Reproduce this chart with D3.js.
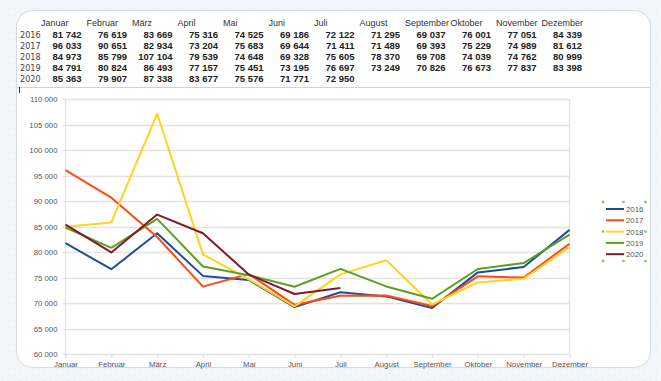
<!DOCTYPE html>
<html>
<head>
<meta charset="utf-8">
<script src="https://cdn.jsdelivr.net/npm/d3@7"></script>
<style>
  html, body { margin: 0; padding: 0; background: #f2f5f9; }
  svg { display: block; font-family: "Liberation Sans", Arial, sans-serif; }
</style>
</head>
<body>
<svg id="chart" width="661" height="381"></svg>
<script>
const months = ["Januar", "Februar", "März", "April", "Mai", "Juni", "Juli",
  "August", "September", "Oktober", "November", "Dezember"];
const years = ["2016", "2017", "2018", "2019", "2020"];

const v2016 = [81742, 76619, 83669, 75316, 74525, 69186, 72122, 71295, 69037, 76001, 77051, 84339];
const v2017 = [96033, 90651, 82934, 73204, 75683, 69644, 71411, 71489, 69393, 75229, 74989, 81612];
const v2018 = [84973, 85799, 107104, 79539, 74648, 69328, 75605, 78370, 69708, 74039, 74762, 80999];
const v2019 = [84791, 80824, 86493, 77157, 75451, 73195, 76697, 73249, 70826, 76673, 77837, 83398];
const v2020 = [85363, 79907, 87338, 83677, 75576, 71771, 72950];

const yTicks = [60000, 65000, 70000, 75000, 80000, 85000, 90000, 95000, 100000, 105000, 110000];
const colors = ["#1c4f94", "#ff4a12", "#ffd320", "#5aa022", "#7e1a2c"];

const series = [v2016, v2017, v2018, v2019, v2020].map((values, i) => {
  return { year: years[i], values: values, color: colors[i] };
});

// german style thousands: "81 742"
const fmt = (d) => d3.format(",")(d).replace(/,/g, " ");

const svg = d3.select("#chart");

// background dots
const defs = svg.append("defs");
defs.append("pattern")
  .attr("id", "dots")
  .attr("width", 6)
  .attr("height", 6)
  .attr("patternUnits", "userSpaceOnUse")
  .append("rect")
  .attr("x", 2).attr("y", 2)
  .attr("width", 1).attr("height", 1)
  .attr("fill", "#e4e9ef");

svg.append("rect")
  .attr("width", 661).attr("height", 381)
  .attr("fill", "url(#dots)");

// card
svg.append("rect")
  .attr("x", 16.5).attr("y", 10.5)
  .attr("width", 634).attr("height", 357)
  .attr("rx", 16)
  .attr("fill", "#fff")
  .attr("stroke", "#d6dbe1");

/////////////////////////////////////////////////////////
// table

const colX = (i) => 41 + 45.5 * i;
const table = svg.append("g").attr("class", "table");

table.selectAll("text.month")
  .data(months)
  .enter().append("text")
  .attr("class", "month")
  .attr("x", (d, i) => colX(i))
  .attr("y", 26)
  .attr("font-size", 9)
  .attr("fill", "#333")
  .text((d) => d);

const rows = table.selectAll("g.row")
  .data(series)
  .enter().append("g")
  .attr("class", "row")
  .attr("transform", (d, i) => `translate(0,${37.5 + 11.2 * i})`);

rows.append("text")
  .attr("x", 20)
  .attr("font-size", 9)
  .attr("fill", "#444")
  .attr("font-family", "'Liberation Sans Narrow', 'DejaVu Sans Condensed', sans-serif")
  .text((d) => d.year);

rows.selectAll("text.val")
  .data((d) => d.values)
  .enter().append("text")
  .attr("class", "val")
  .attr("x", (d, i) => 81.5 + 45.5 * i)
  .attr("text-anchor", "end")
  .attr("font-size", 9.5)
  .attr("font-weight", "bold")
  .attr("fill", "#222")
  .text(fmt);

svg.append("line")
  .attr("x1", 17).attr("x2", 650)
  .attr("y1", 87.5).attr("y2", 87.5)
  .attr("stroke", "#cfd3d8");

svg.append("line")
  .attr("x1", 19.5).attr("x2", 19.5)
  .attr("y1", 87).attr("y2", 93)
  .attr("stroke", "#333");

/////////////////////////////////////////////////////////
// chart

const x = d3.scalePoint().domain(months).range([65.5, 569.5]);
const y = d3.scaleLinear().domain([60000, 110000]).range([354, 99]);

const plot = svg.append("g").attr("class", "plot");

plot.selectAll("line.grid")
  .data(yTicks)
  .enter().append("line")
  .attr("class", "grid")
  .attr("x1", 63).attr("x2", 569.5)
  .attr("y1", (d) => Math.round(y(d)) + 0.5)
  .attr("y2", (d) => Math.round(y(d)) + 0.5)
  .attr("stroke", "#e2e2e2")
  .attr("stroke-width", 1.3);

plot.append("line")
  .attr("x1", 65.5).attr("x2", 65.5)
  .attr("y1", y(110000)).attr("y2", y(60000) + 4)
  .attr("stroke", "#e2e2e2")
  .attr("stroke-width", 1.3);

plot.append("line")
  .attr("x1", 569.5).attr("x2", 569.5)
  .attr("y1", y(110000)).attr("y2", y(60000))
  .attr("stroke", "#e2e2e2")
  .attr("stroke-width", 1.3);

// axes
const yAxis = d3.axisLeft(y)
  .tickValues(yTicks)
  .tickSize(0)
  .tickPadding(8)
  .tickFormat(fmt);

const yG = plot.append("g")
  .attr("transform", "translate(65.5,0)")
  .call(yAxis);
yG.select(".domain").remove();
yG.selectAll("text")
  .attr("font-size", 7.8)
  .attr("font-family", "'Liberation Sans', Arial, sans-serif")
  .attr("fill", "#555");

const xAxis = d3.axisBottom(x)
  .tickSize(4)
  .tickPadding(3);

const xG = plot.append("g")
  .attr("transform", `translate(0,${y(60000)})`)
  .call(xAxis);
xG.select(".domain").remove();
xG.selectAll("line").attr("stroke", "#e2e2e2").attr("stroke-width", 1.3);
xG.selectAll("text")
  .attr("font-size", 7.8)
  .attr("font-family", "'Liberation Sans', Arial, sans-serif")
  .attr("fill", "#555");

// lines
const line = d3.line()
  .x((d, i) => x(months[i]))
  .y((d) => y(d));

plot.selectAll("path.series")
  .data(series)
  .enter().append("path")
  .attr("class", "series")
  .attr("d", (d) => line(d.values))
  .attr("fill", "none")
  .attr("stroke", (d) => d.color)
  .attr("stroke-width", 2)
  .attr("stroke-linejoin", "round");

/////////////////////////////////////////////////////////
// legend

const legend = svg.append("g").attr("class", "legend");

const item = legend.selectAll("g.item")
  .data(series)
  .enter().append("g")
  .attr("class", "item")
  .attr("transform", (d, i) => `translate(0,${209 + 11.3 * i})`);

item.append("line")
  .attr("x1", 606).attr("x2", 624)
  .attr("stroke", (d) => d.color)
  .attr("stroke-width", 2);

item.append("text")
  .attr("x", 626)
  .attr("y", 3)
  .attr("font-size", 7.8)
  .attr("fill", "#555")
  .text((d) => d.year);

// selection handles
const handles = [];
[603, 623.5, 645.5].forEach((hx) => {
  [202, 231.5, 261].forEach((hy) => {
    if (!(hx === 623.5 && hy === 231.5)) handles.push([hx, hy]);
  });
});

legend.selectAll("rect.handle")
  .data(handles)
  .enter().append("rect")
  .attr("class", "handle")
  .attr("x", (d) => d[0] - 1.2)
  .attr("y", (d) => d[1] - 1.2)
  .attr("width", 2.4)
  .attr("height", 2.4)
  .attr("fill", "#8fc45a");
</script>
</body>
</html>
